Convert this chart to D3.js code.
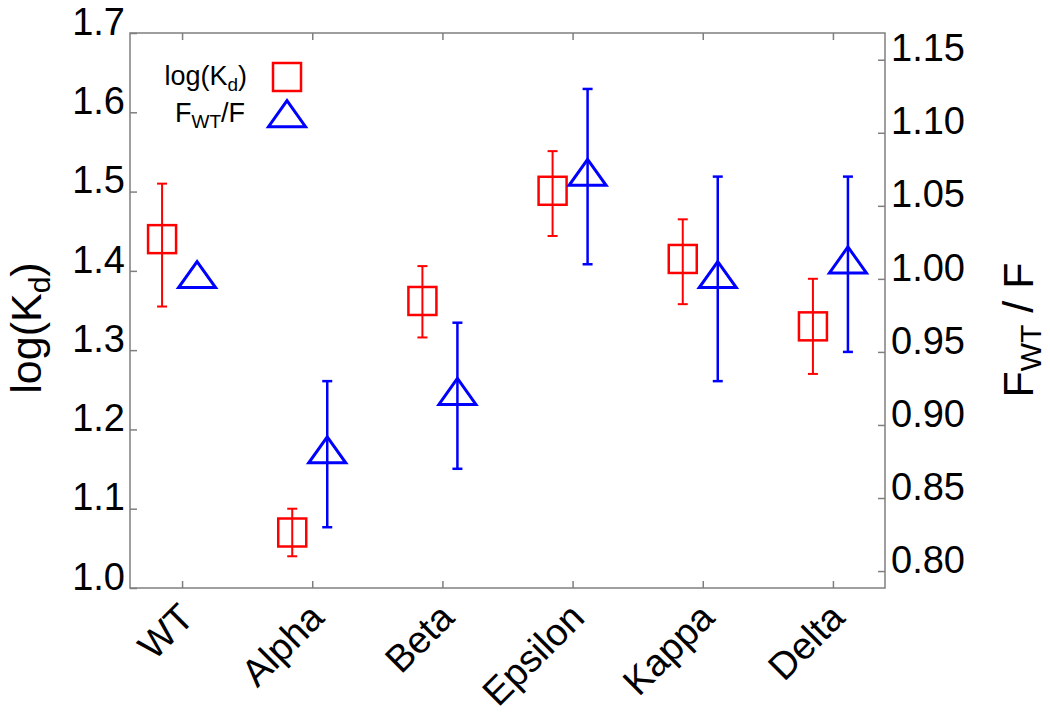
<!DOCTYPE html>
<html>
<head>
<meta charset="utf-8">
<script src="https://cdn.jsdelivr.net/npm/d3@7"></script>
<style>
  html, body { margin: 0; padding: 0; background: #fff; }
  svg { display: block; }
  text { font-family: "Liberation Sans", Arial, sans-serif; fill: #000; }
</style>
</head>
<body>
<svg id="chart" width="1050" height="713"></svg>
<script>
// ---- data ----
const categories = ["WT", "Alpha", "Beta", "Epsilon", "Kappa", "Delta"];
const logKd      = [1.440, 1.070, 1.362, 1.501, 1.415, 1.330];
const logKdLow   = [1.355, 1.040, 1.316, 1.444, 1.358, 1.270];
const logKdHigh  = [1.510, 1.100, 1.406, 1.551, 1.465, 1.390];
const fRatio     = [1.000, 0.880, 0.920, 1.070, 1.000, 1.010];
const fLow       = [null,  0.830, 0.870, 1.010, 0.930, 0.950];
const fHigh      = [null,  0.930, 0.970, 1.130, 1.070, 1.070];
const leftTicks  = [1.0, 1.1, 1.2, 1.3, 1.4, 1.5, 1.6, 1.7];
const rightTicks = [0.80, 0.85, 0.90, 0.95, 1.00, 1.05, 1.10, 1.15];

// ---- layout ----
const L = 130, R = 885, T = 33, B = 588;
const svg = d3.select("#chart");
const axisColor = "#7f7f7f";
const red = "#ff0000", blue = "#0000ff";

const x = d3.scalePoint().domain(categories).range([L, R]).padding(0.4);
const yL = d3.scaleLinear().domain([1.0, 1.7]).range([B, T]);
const yR = d3.scaleLinear().domain([0.7884, 1.1683]).range([B, T]);

const FS = 38;

// box
svg.append("rect").attr("x", L).attr("y", T).attr("width", R - L).attr("height", B - T)
  .attr("fill", "none").attr("stroke", axisColor).attr("stroke-width", 1.5);

// left axis
const gL = svg.append("g").attr("transform", `translate(${L},0)`)
  .call(d3.axisLeft(yL).tickValues(leftTicks).tickFormat(d3.format(".1f")).tickSizeInner(-7).tickSizeOuter(0).tickPadding(5));
// right axis
const gR = svg.append("g").attr("transform", `translate(${R},0)`)
  .call(d3.axisRight(yR).tickValues(rightTicks).tickFormat(d3.format(".2f")).tickSizeInner(-7).tickSizeOuter(0).tickPadding(6));
// bottom axis
const gB = svg.append("g").attr("transform", `translate(0,${B})`)
  .call(d3.axisBottom(x).tickSizeInner(-7).tickSizeOuter(0).tickFormat(""));
// top axis
const gT = svg.append("g").attr("transform", `translate(0,${T})`)
  .call(d3.axisTop(x).tickSizeInner(-7).tickSizeOuter(0).tickFormat(""));

[gL, gR, gB, gT].forEach(g => {
  g.select(".domain").remove();
  g.selectAll(".tick line").attr("stroke", axisColor).attr("stroke-width", 1.5);
});
[gL, gR].forEach(g => {
  g.selectAll(".tick text").attr("font-size", FS).attr("fill", "#000")
    .attr("font-family", '"Liberation Sans", Arial, sans-serif')
    .attr("y", -11);
});

// x labels
svg.append("g").selectAll("text").data(categories).join("text")
  .attr("transform", d => `translate(${x(d) - 5},${B + 13}) rotate(-45)`)
  .attr("text-anchor", "end")
  .attr("dy", "0.7em")
  .attr("font-size", FS)
  .text(d => d);

// axis titles
const tl = svg.append("text").attr("transform", `translate(41,328) rotate(-90)`)
  .attr("text-anchor", "middle").attr("font-size", 43);
tl.append("tspan").text("log(K");
tl.append("tspan").attr("font-size", 30).attr("dy", 9).text("d");
tl.append("tspan").attr("dy", -9).text(")");

const tr = svg.append("text").attr("transform", `translate(1033,330) rotate(-90)`)
  .attr("text-anchor", "middle").attr("font-size", 43);
tr.append("tspan").text("F");
tr.append("tspan").attr("font-size", 30).attr("dy", 8).text("WT");
tr.append("tspan").attr("dy", -8).text(" / F");

// ---- series ----
const sqOff = -20, trOff = 15, cap = 5;
const SQ = 28;
const triW = 37, triH = 26;
const triPath = `M0,${-2 * triH / 3} L${triW / 2},${triH / 3} L${-triW / 2},${triH / 3} Z`;

const redData = categories.map((c, i) => ({ c, v: logKd[i], lo: logKdLow[i], hi: logKdHigh[i] }));
const blueData = categories.map((c, i) => ({ c, v: fRatio[i], lo: fLow[i], hi: fHigh[i] }));

function errorBars(data, y, off, color, sw) {
  const g = svg.append("g").attr("stroke", color).attr("stroke-width", sw).attr("fill", "none");
  data.filter(d => d.lo != null).forEach(d => {
    const cx = x(d.c) + off;
    g.append("line").attr("x1", cx).attr("x2", cx).attr("y1", y(d.lo)).attr("y2", y(d.hi));
    g.append("line").attr("x1", cx - cap).attr("x2", cx + cap).attr("y1", y(d.lo)).attr("y2", y(d.lo));
    g.append("line").attr("x1", cx - cap).attr("x2", cx + cap).attr("y1", y(d.hi)).attr("y2", y(d.hi));
  });
}
errorBars(redData, yL, sqOff, red, 2);
errorBars(blueData, yR, trOff, blue, 2.5);

svg.append("g").selectAll("rect").data(redData).join("rect")
  .attr("x", d => x(d.c) + sqOff - SQ / 2).attr("y", d => yL(d.v) - SQ / 2)
  .attr("width", SQ).attr("height", SQ)
  .attr("fill", "none").attr("stroke", red).attr("stroke-width", 2.5);

svg.append("g").selectAll("path").data(blueData).join("path")
  .attr("transform", d => `translate(${x(d.c) + trOff},${yR(d.v)})`)
  .attr("d", triPath)
  .attr("fill", "none").attr("stroke", blue).attr("stroke-width", 3).attr("stroke-linejoin", "miter");

// ---- legend ----
const lg = svg.append("g");
const l1 = lg.append("text").attr("x", 247).attr("y", 85).attr("text-anchor", "end").attr("font-size", 27);
l1.append("tspan").text("log(K");
l1.append("tspan").attr("font-size", 19).attr("dy", 6).text("d");
l1.append("tspan").attr("dy", -6).text(")");
lg.append("rect").attr("x", 287 - SQ / 2).attr("y", 77 - SQ / 2).attr("width", SQ).attr("height", SQ)
  .attr("fill", "none").attr("stroke", red).attr("stroke-width", 2.5);

const l2 = lg.append("text").attr("x", 245).attr("y", 122).attr("text-anchor", "end").attr("font-size", 27);
l2.append("tspan").text("F");
l2.append("tspan").attr("font-size", 19).attr("dy", 6).text("WT");
l2.append("tspan").attr("dy", -6).text("/F");
lg.append("path").attr("transform", "translate(287,118)").attr("d", triPath)
  .attr("fill", "none").attr("stroke", blue).attr("stroke-width", 3);
</script>
</body>
</html>
